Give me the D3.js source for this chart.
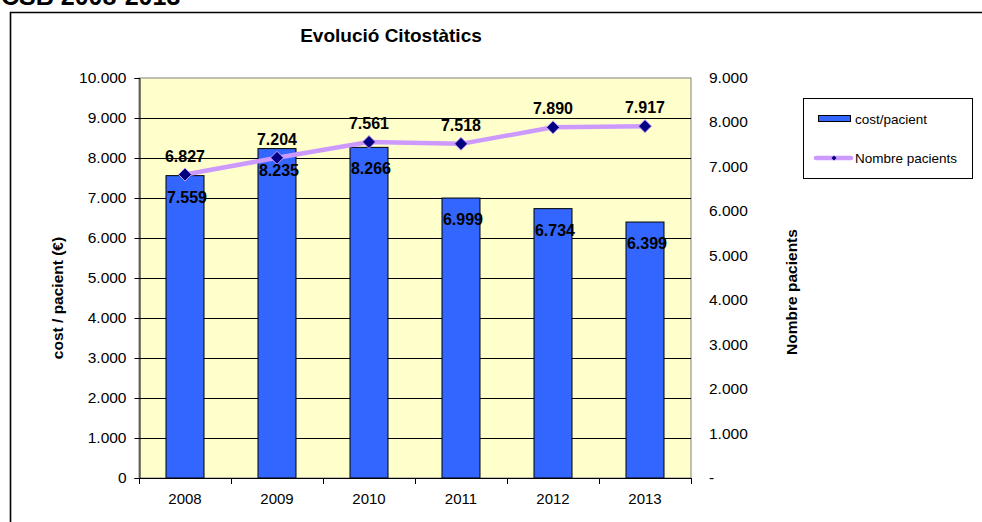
<!DOCTYPE html>
<html>
<head>
<meta charset="utf-8">
<script src="https://cdn.jsdelivr.net/npm/d3@7"></script>
<style>
  html, body { margin: 0; padding: 0; background: #fff; }
  svg { display: block; font-family: "Liberation Sans", Arial, sans-serif; }
</style>
</head>
<body>
<svg id="chart" width="982" height="522"></svg>
<script>
// Anys
const years = ["2008", "2009", "2010", "2011", "2012", "2013"];
// Cost per pacient (€) — barres, eix esquerre
const costPerPatient = [7559, 8235, 8266, 6999, 6734, 6399];
// Nombre de pacients — línia, eix dret
const patients = [6827, 7204, 7561, 7518, 7890, 7917];
// Marques dels eixos
const leftTicks = [0, 1000, 2000, 3000, 4000, 5000, 6000, 7000, 8000, 9000, 10000];
const rightTicks = [0, 1000, 2000, 3000, 4000, 5000, 6000, 7000, 8000, 9000];

const locale = d3.formatLocale({ decimal: ",", thousands: ".", grouping: [3], currency: ["", " €"] });
const fmt = locale.format(",d");

const svg = d3.select("#chart");
const plot = { left: 139, right: 691, top: 78, bottom: 478 };

const x = d3.scaleBand().domain(years)
  .range([plot.left, plot.right])
  .paddingInner(0.587).paddingOuter(0.2935);
const yL = d3.scaleLinear().domain([0, 10000]).range([plot.bottom, plot.top]);
const yR = d3.scaleLinear().domain([0, 9000]).range([plot.bottom, plot.top]);

// Títol superior (parcialment tallat)
svg.append("text").attr("x", 1).attr("y", 5)
  .attr("font-size", 25).attr("font-weight", "bold").attr("fill", "#000")
  .text("CSB 2008-2013");

// Marc del gràfic
svg.append("path")
  .attr("d", `M10.5,522 V12.5 H982`)
  .attr("fill", "none").attr("stroke", "#000").attr("stroke-width", 1.6);

// Títol del gràfic
svg.append("text").attr("x", 391).attr("y", 42)
  .attr("text-anchor", "middle").attr("font-size", 19).attr("font-weight", "bold")
  .text("Evolució Citostàtics");

// Fons de l'àrea de dibuix
svg.append("rect")
  .attr("x", plot.left).attr("y", plot.top)
  .attr("width", plot.right - plot.left).attr("height", plot.bottom - plot.top)
  .attr("fill", "#FFFFCC").attr("stroke", "#808080").attr("stroke-width", 1);

// Línies de graella
svg.append("g").selectAll("line").data(leftTicks.filter(d => d > 0 && d < 10000)).join("line")
  .attr("x1", plot.left).attr("x2", plot.right)
  .attr("y1", d => Math.round(yL(d)) + 0.5).attr("y2", d => Math.round(yL(d)) + 0.5)
  .attr("stroke", "#000").attr("stroke-width", 1);

// Barres
svg.append("g").selectAll("rect").data(costPerPatient).join("rect")
  .attr("x", (d, i) => x(years[i]))
  .attr("y", d => yL(d))
  .attr("width", x.bandwidth())
  .attr("height", d => yL(0) - yL(d))
  .attr("fill", "#3366FF").attr("stroke", "#000").attr("stroke-width", 1);

// Eix esquerre
const axL = svg.append("g").attr("transform", `translate(${plot.left + 0.5},0)`)
  .call(d3.axisLeft(yL).tickValues(leftTicks).tickFormat(fmt).tickSize(5).tickPadding(8));
axL.select(".domain").attr("stroke", "#000");
axL.selectAll("text").attr("font-size", 15.5).attr("font-family", "Liberation Sans, Arial, sans-serif").attr("fill", "#000");

// Eix inferior (categories) amb marques als límits
const bottomG = svg.append("g");
bottomG.append("line")
  .attr("x1", plot.left).attr("x2", plot.right)
  .attr("y1", plot.bottom + 0.5).attr("y2", plot.bottom + 0.5)
  .attr("stroke", "#000");
const edges = d3.range(years.length + 1).map(i => plot.left + i * x.step());
bottomG.selectAll("line.tk").data(edges).join("line").attr("class", "tk")
  .attr("x1", d => Math.round(d) + 0.5).attr("x2", d => Math.round(d) + 0.5)
  .attr("y1", plot.bottom).attr("y2", plot.bottom + 6)
  .attr("stroke", "#000");
bottomG.selectAll("text").data(years).join("text")
  .attr("x", d => x(d) + x.bandwidth() / 2).attr("y", plot.bottom + 26)
  .attr("text-anchor", "middle").attr("font-size", 15)
  .text(d => d);

// Eix dret (sense línia)
svg.append("g").selectAll("text").data(rightTicks).join("text")
  .attr("x", plot.right + 18).attr("y", d => yR(d) + 5)
  .attr("font-size", 15.5)
  .text(d => d === 0 ? "-" : fmt(d));

// Títols dels eixos
svg.append("text")
  .attr("transform", `translate(63,298) rotate(-90)`)
  .attr("text-anchor", "middle").attr("font-size", 15.5).attr("font-weight", "bold")
  .text("cost / pacient (€)");
svg.append("text")
  .attr("transform", `translate(797,292) rotate(-90)`)
  .attr("text-anchor", "middle").attr("font-size", 15.5).attr("font-weight", "bold")
  .text("Nombre pacients");

// Línia de pacients
const cx = d => x(d) + x.bandwidth() / 2;
const line = d3.line().x((d, i) => cx(years[i])).y(d => yR(d));
svg.append("path").datum(patients)
  .attr("d", line).attr("fill", "none")
  .attr("stroke", "#CC99FF").attr("stroke-width", 4.5).attr("stroke-linejoin", "round");

const diamond = "M0,-6.5L6.5,0L0,6.5L-6.5,0Z";
svg.append("g").selectAll("path").data(patients).join("path")
  .attr("transform", (d, i) => `translate(${cx(years[i])},${yR(d)})`)
  .attr("d", diamond).attr("fill", "#000080").attr("stroke", "#CC99FF").attr("stroke-width", 1);

// Etiquetes de valor
svg.append("g").selectAll("text").data(patients).join("text")
  .attr("x", (d, i) => cx(years[i])).attr("y", d => yR(d) - 13)
  .attr("text-anchor", "middle").attr("font-size", 16).attr("font-weight", "bold")
  .text(d => fmt(d));
svg.append("g").selectAll("text").data(costPerPatient).join("text")
  .attr("x", (d, i) => cx(years[i]) + 2).attr("y", d => yL(d) + 27)
  .attr("text-anchor", "middle").attr("font-size", 16).attr("font-weight", "bold")
  .text(d => fmt(d));

// Llegenda
const lg = svg.append("g");
lg.append("rect").attr("x", 803.5).attr("y", 98.5).attr("width", 169).attr("height", 80)
  .attr("fill", "#fff").attr("stroke", "#000").attr("stroke-width", 1);
lg.append("rect").attr("x", 818.5).attr("y", 115.5).attr("width", 32).attr("height", 6)
  .attr("fill", "#3366FF").attr("stroke", "#000").attr("stroke-width", 1);
lg.append("text").attr("x", 855).attr("y", 124).attr("font-size", 13.5).text("cost/pacient");
lg.append("line").attr("x1", 816).attr("x2", 851).attr("y1", 158).attr("y2", 158)
  .attr("stroke", "#CC99FF").attr("stroke-width", 4.5).attr("stroke-linecap", "round");
lg.append("path").attr("transform", "translate(834,158)").attr("d", "M0,-2.5L2.5,0L0,2.5L-2.5,0Z")
  .attr("fill", "#000080");
lg.append("text").attr("x", 855).attr("y", 163).attr("font-size", 13.5).text("Nombre pacients");
</script>
</body>
</html>
